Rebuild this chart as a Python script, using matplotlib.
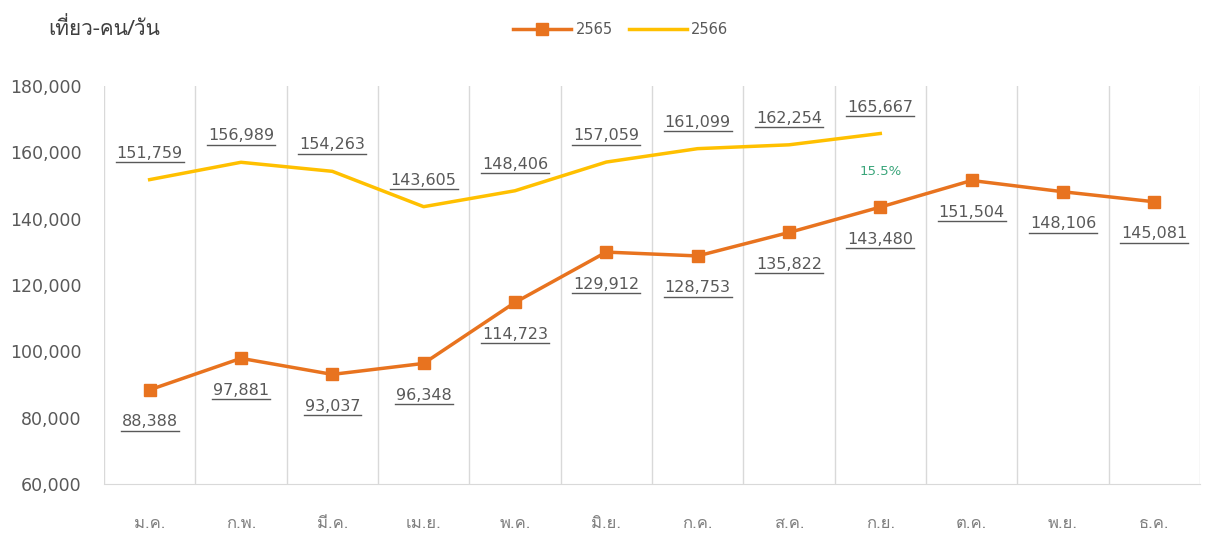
import matplotlib
matplotlib.use("Agg")
import matplotlib.pyplot as plt
import matplotlib.font_manager as fm
from matplotlib.ft2font import FT2Font
from matplotlib.lines import Line2D

# data
months = ['ม.ค.', 'ก.พ.', 'มี.ค.', 'เม.ย.', 'พ.ค.', 'มิ.ย.',
          'ก.ค.', 'ส.ค.', 'ก.ย.', 'ต.ค.', 'พ.ย.', 'ธ.ค.']
trips_2565 = [88388, 97881, 93037, 96348, 114723, 129912,
              128753, 135822, 143480, 151504, 148106, 145081]
trips_2566 = [151759, 156989, 154263, 143605, 148406, 157059,
              161099, 162254, 165667]
y_ticks = [60000, 80000, 100000, 120000, 140000, 160000, 180000]
growth_note = '15.5%'
unit_label = 'เที่ยว-คน/วัน'

# look for a font that can draw Thai
thai_font = None
for f in fm.fontManager.ttflist:
    try:
        if 0x0E40 in FT2Font(f.fname).get_charmap():
            thai_font = f.name
            break
    except Exception:
        pass
thai_fam = ([thai_font] if thai_font else []) + ['DejaVu Sans']
num_fam = ['DejaVu Sans']
plt.rcParams['font.family'] = thai_fam

ORANGE = '#E8731F'
YELLOW = '#FFC000'
GRID = '#d9d9d9'
TXT = '#595959'

fig = plt.figure(figsize=(12.05, 5.41), dpi=100)
ax = fig.add_axes([0.0863, 0.1054, 0.9095, 0.7357])

x1 = list(range(len(trips_2565)))
x2 = list(range(len(trips_2566)))
ax.plot(x1, trips_2565, color=ORANGE, lw=2.5, marker='s', ms=9,
        mfc=ORANGE, mec=ORANGE, label='2565', zorder=3)
ax.plot(x2, trips_2566, color=YELLOW, lw=2.5, label='2566', zorder=3)

ax.set_xlim(-0.5, len(months) - 0.5)
ax.set_ylim(60000, 180000)
ax.set_yticks(y_ticks)
ax.set_yticklabels([f'{v:,}' for v in y_ticks], family=num_fam)
ax.set_xticks(x1)
ax.set_xticklabels(months)
ax.tick_params(axis='y', length=0, pad=16, labelsize=12.5, labelcolor=TXT)
ax.tick_params(axis='x', length=0, pad=23, labelsize=12, labelcolor='#7f7f7f')

# vertical separators between months
ax.set_xticks([i - 0.5 for i in range(len(months) + 1)], minor=True)
ax.tick_params(which='minor', length=0)
ax.grid(which='minor', axis='x', color=GRID, lw=1)
for s in ['top', 'right', 'left']:
    ax.spines[s].set_visible(False)
ax.spines['bottom'].set_color(GRID)

labels = []
for x, v in zip(x2, trips_2566):
    labels.append(ax.annotate(f'{v:,}', (x, v), xytext=(0, 19), textcoords='offset points',
                              ha='center', va='center', fontsize=11.5, color=TXT,
                              family=num_fam))
for x, v in zip(x1, trips_2565):
    labels.append(ax.annotate(f'{v:,}', (x, v), xytext=(0, -23), textcoords='offset points',
                              ha='center', va='center', fontsize=11.5, color=TXT,
                              family=num_fam))

ax.annotate(growth_note, (8, trips_2566[8]), xytext=(0, -27), textcoords='offset points',
            ha='center', va='center', fontsize=9.5, color='#3aa57a', family=num_fam)

fig.text(0.040, 0.948, unit_label, fontsize=15, color='#404040', va='center')
leg = fig.legend(loc='center', bbox_to_anchor=(0.515, 0.945), ncol=2, frameon=False,
                 fontsize=10.5, labelcolor=TXT, handlelength=4.0, columnspacing=1.1,
                 handletextpad=0.3)
for t in leg.get_texts():
    t.set_family(num_fam)

# underline the data labels
fig.canvas.draw()
r = fig.canvas.get_renderer()
inv = fig.transFigure.inverted()
for t in labels:
    bb = t.get_window_extent(r)
    (a, b), (c, d) = inv.transform([[bb.x0 - 1, bb.y0 - 1.5], [bb.x1 + 1, bb.y0 - 1.5]])
    fig.add_artist(Line2D([a, c], [b, d], color=TXT, lw=1.0))

fig.savefig('out.png', dpi=100)
